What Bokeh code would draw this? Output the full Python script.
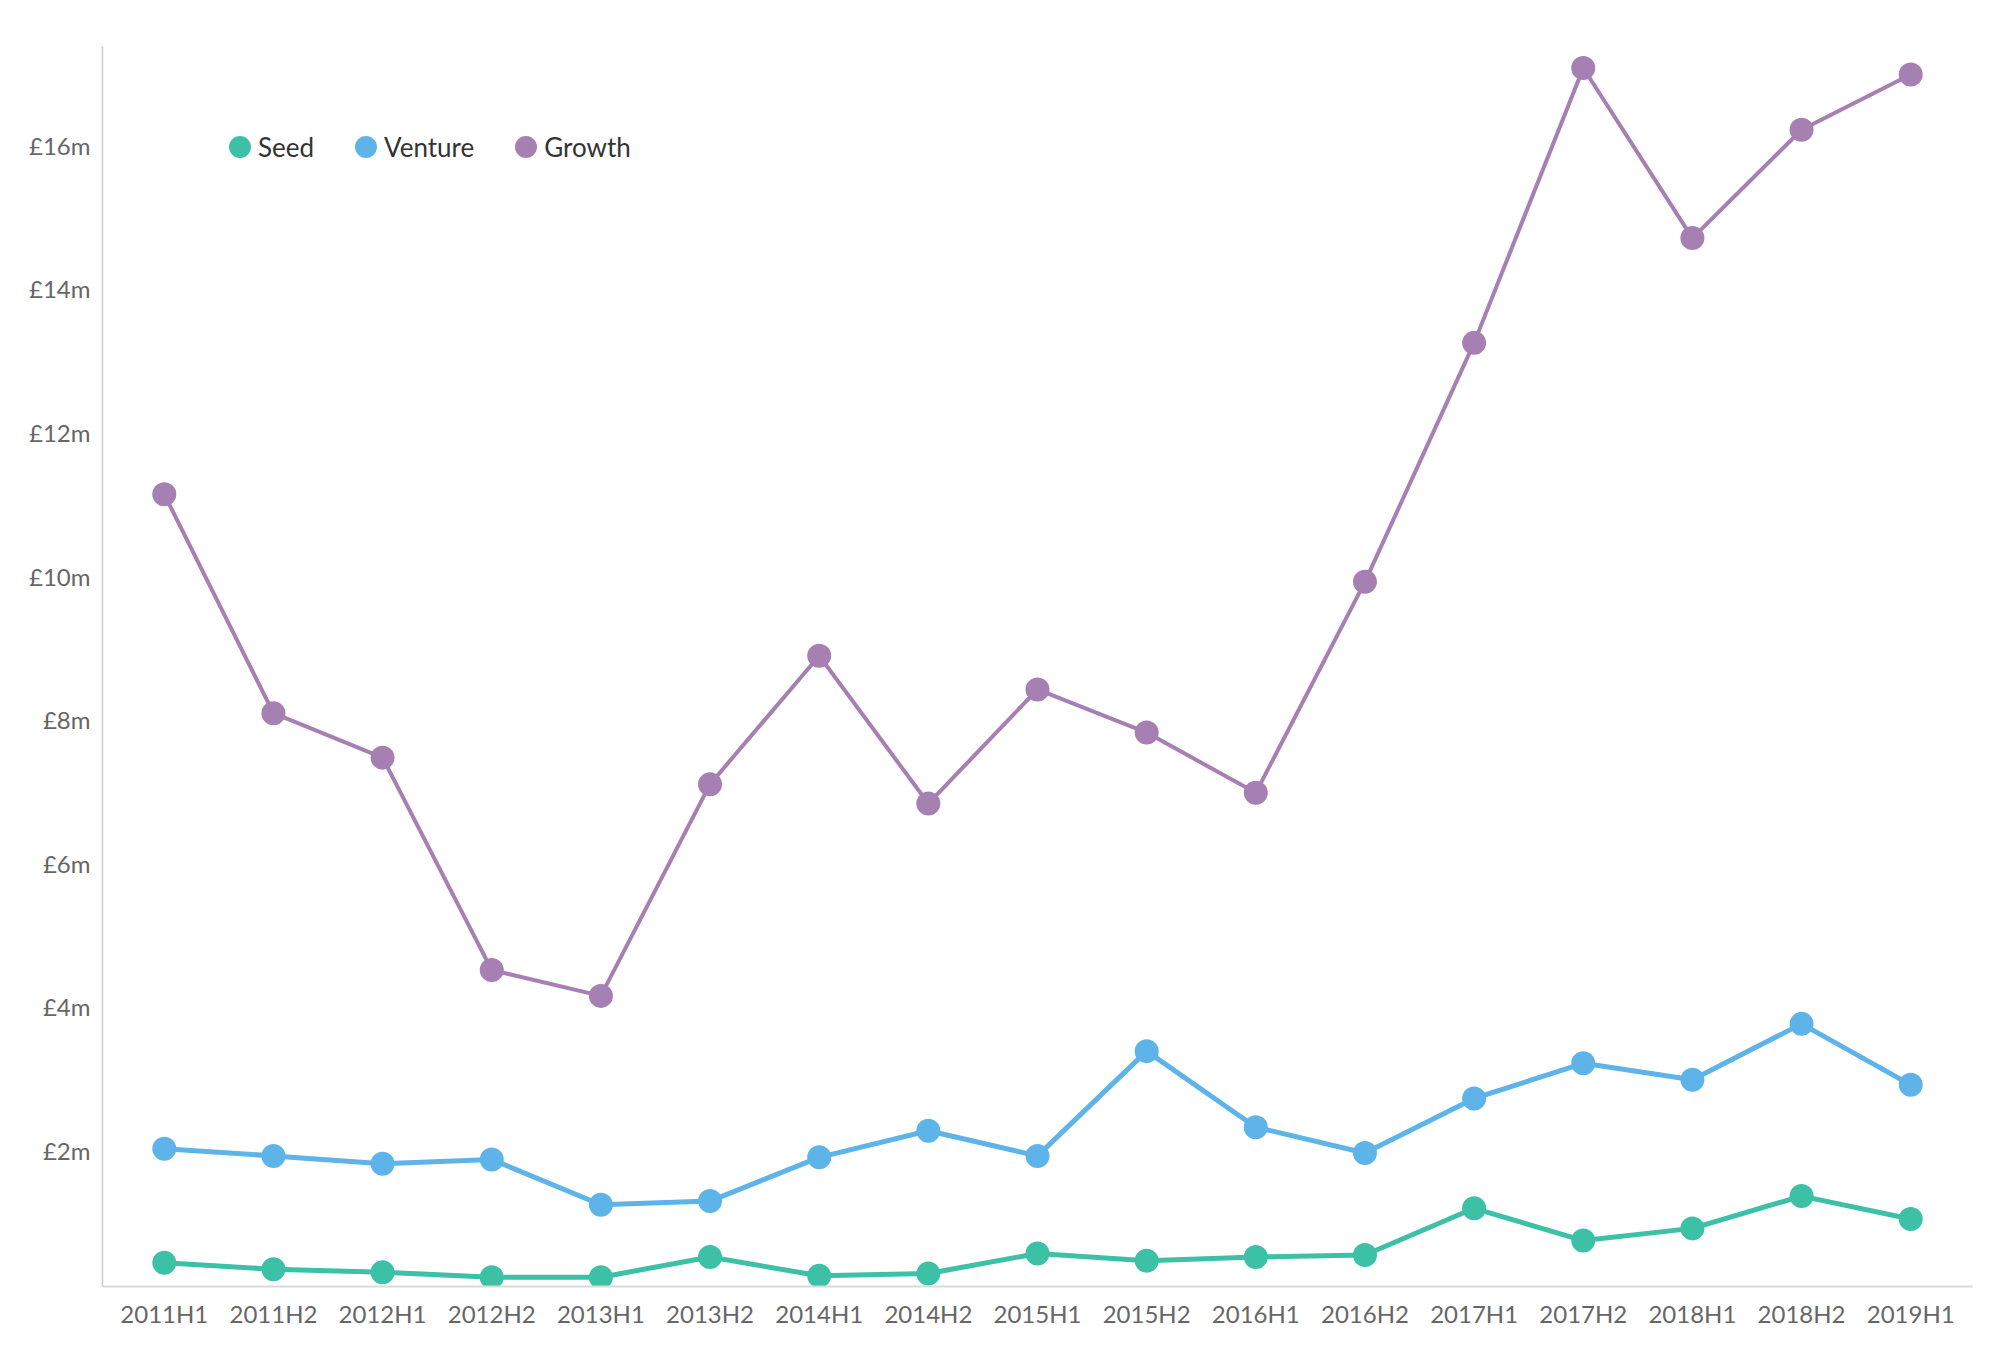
from bokeh.plotting import figure
from bokeh.models import (Range1d, FixedTicker, PrintfTickFormatter, Legend, LegendItem)
from bokeh.embed import file_html
from bokeh.resources import INLINE

periods = ["2011H1", "2011H2", "2012H1", "2012H2", "2013H1", "2013H2", "2014H1", "2014H2",
           "2015H1", "2015H2", "2016H1", "2016H2", "2017H1", "2017H2", "2018H1", "2018H2", "2019H1"]
seed = [0.54, 0.45, 0.41, 0.34, 0.34, 0.62, 0.36, 0.39, 0.67, 0.57, 0.62, 0.65, 1.30, 0.85, 1.02, 1.47, 1.15]
venture = [2.13, 2.03, 1.92, 1.98, 1.35, 1.40, 2.01, 2.38, 2.03, 3.49, 2.43, 2.07, 2.83, 3.32, 3.09, 3.87, 3.02]
growth = [11.25, 8.20, 7.58, 4.62, 4.26, 7.21, 9.00, 6.94, 8.53, 7.93, 7.09, 10.03, 13.36, 17.19, 14.82, 16.33, 17.10]
y_ticks = [2, 4, 6, 8, 10, 12, 14, 16]

series = [("Seed", seed, "#3cc1a7", 5), ("Venture", venture, "#5eb4e8", 5), ("Growth", growth, "#a67fb3", 4)]

xs = list(range(len(periods)))

p = figure(width=1984, height=1345, output_backend="svg", toolbar_location=None,
           x_range=Range1d(-0.566, len(periods) - 1 + 0.566), y_range=Range1d(0.21, 17.49),
           min_border_left=102, min_border_right=12, min_border_top=46, min_border_bottom=59)
p.outline_line_color = None
p.xgrid.visible = False
p.ygrid.visible = False
p.background_fill_color = "white"
p.border_fill_color = "white"

items = []
for name, vals, color, lw in series:
    p.line(xs, vals, line_color=color, line_width=lw)
    r = p.scatter(xs, vals, size=16, fill_color=color, line_color=color, line_width=8)
    items.append(LegendItem(label=name, renderers=[r]))

# x axis
p.xaxis.ticker = FixedTicker(ticks=xs)
p.xaxis.major_label_overrides = {i: lab for i, lab in enumerate(periods)}
p.xaxis.axis_line_color = "#d9d9d9"
p.xaxis.axis_line_width = 2
p.xaxis.major_tick_line_color = None
p.xaxis.major_tick_out = 0
p.xaxis.minor_tick_line_color = None
p.xaxis.major_label_standoff = 12
p.xaxis.major_label_text_font = "Lato"
p.xaxis.major_label_text_font_size = "24px"
p.xaxis.major_label_text_color = "#666666"

# y axis
p.yaxis.ticker = FixedTicker(ticks=y_ticks)
p.yaxis.formatter = PrintfTickFormatter(format="£%dm\n")
p.yaxis.axis_line_color = "#cccccc"
p.yaxis.axis_line_width = 1.5
p.yaxis.major_tick_line_color = None
p.yaxis.major_tick_out = 0
p.yaxis.minor_tick_line_color = None
p.yaxis.major_label_standoff = 12
p.yaxis.major_label_text_font = "Lato"
p.yaxis.major_label_text_font_size = "24px"
p.yaxis.major_label_text_color = "#666666"
p.yaxis.major_label_text_line_height = 0.55

legend = Legend(items=items, orientation="horizontal", location=(120, 1122),
                glyph_width=35, glyph_height=35, label_standoff=1, spacing=34,
                padding=0, margin=0, border_line_alpha=0, background_fill_alpha=0,
                label_text_font="Lato", label_text_font_size="26px", label_text_color="#333333")
p.add_layout(legend, "center")

open("out.html", "w").write(file_html(p, INLINE))
